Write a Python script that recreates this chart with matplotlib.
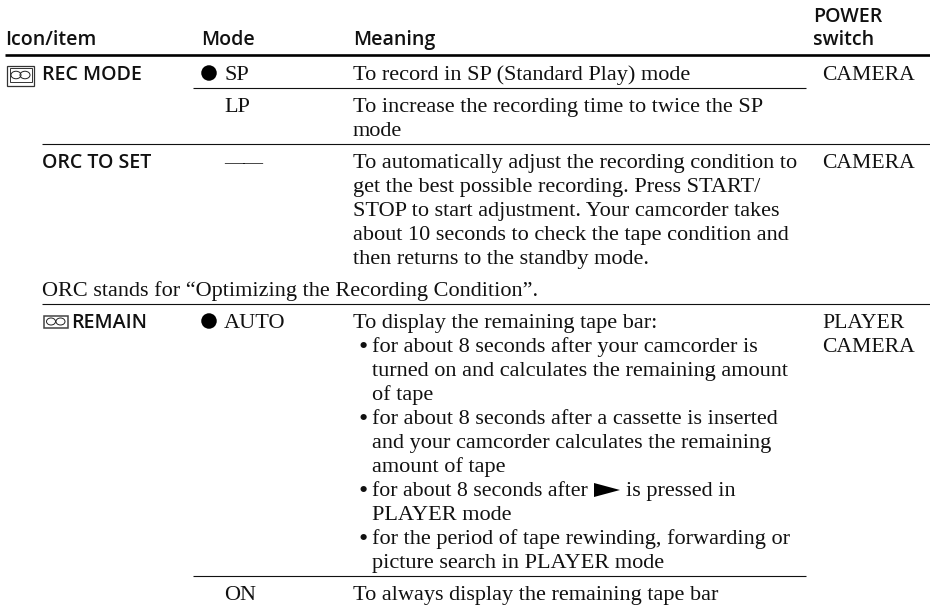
# recreate the REC MODE / ORC TO SET / REMAIN menu table
import matplotlib
matplotlib.use('Agg')
import matplotlib.pyplot as plt
from matplotlib.patches import Rectangle, Ellipse, Polygon

headers = ['Icon/item', 'Mode', 'Meaning']
power_header = ['POWER', 'switch']
items = ['REC MODE', 'ORC TO SET', 'REMAIN']
modes = ['SP', 'LP', '——', 'AUTO', 'ON']
power = ['CAMERA', 'CAMERA', 'PLAYER', 'CAMERA']
footnote = 'ORC stands for “Optimizing the Recording Condition”.'
meaning = [
    'To record in SP (Standard Play) mode',
    'To increase the recording time to twice the SP',
    'mode',
    'To automatically adjust the recording condition to',
    'get the best possible recording. Press START/',
    'STOP to start adjustment. Your camcorder takes',
    'about 10 seconds to check the tape condition and',
    'then returns to the standby mode.',
    'To display the remaining tape bar:',
    '• for about 8 seconds after your camcorder is',
    '  turned on and calculates the remaining amount',
    '  of tape',
    '• for about 8 seconds after a cassette is inserted',
    '  and your camcorder calculates the remaining',
    '  amount of tape',
    '• for about 8 seconds after',
    '  PLAYER mode',
    '• for the period of tape rewinding, forwarding or',
    '  picture search in PLAYER mode',
    'To always display the remaining tape bar',
]

# baselines in pixels
meaning_y = [80, 112, 136, 168, 192, 216, 240, 264, 328, 352, 376, 400, 424, 448, 472, 496, 520, 544, 568, 600]
item_y = [80, 168, 328]
mode_y = [80, 112, 168, 328, 600]
power_y = [80, 168, 328, 352]

SERIF = 'Liberation Serif'
SANS = 'Open Sans'
INK = '#111111'
fs = 16.0
fs_h = 14.1

fig = plt.figure(figsize=(9.3, 6.06), dpi=100)
ax = fig.add_axes([0, 0, 1, 1])
ax.set_xlim(0, 930)
ax.set_ylim(606, 0)
ax.axis('off')

def serif(x, y, s, size=fs):
    ax.text(x, y, s, family=SERIF, fontsize=size, va='baseline', color=INK)

def sans(x, y, s):
    ax.text(x, y, s, family=SANS, weight='semibold', fontsize=fs_h, va='baseline', color=INK)

for x, h in zip([5, 201, 353], headers):
    sans(x, 45, h)
for y, h in zip([22, 45], power_header):
    sans(813, y, h)

# rules
ax.plot([5, 930], [55, 55], color='black', lw=1.9, solid_capstyle='butt')
for x0, x1, y in [(193, 806, 88), (42, 930, 144), (42, 930, 304), (193, 806, 576)]:
    ax.plot([x0, x1], [y, y], color=INK, lw=0.8, solid_capstyle='butt')

for it, y, x in zip(items, item_y, [42, 42, 71]):
    sans(x, y, it)

for m, y in zip(modes, mode_y):
    serif(224, y, m, 14.0 if m == '——' else fs)
# default-setting dots
for y in [73, 321]:
    ax.add_patch(Ellipse((209, y), 15.5, 15.5, color='black', lw=0))

for line, y in zip(meaning, meaning_y):
    if line.startswith('• '):
        serif(358, y + 1.5, '•', 19)
        # this line stops short of the play triangle
        serif(372, y, line[2:], 15.7 if line.endswith('after') else fs)
    elif line.startswith('  '):
        serif(372, y, line[2:])
    else:
        serif(353, y, line)
ax.add_patch(Polygon([[594, 483], [620, 490], [594, 497]], closed=True, color='black', lw=0))
serif(626, 496, 'is pressed in')

serif(42, 296, footnote)

for p, y in zip(power, power_y):
    serif(822, y, p, 15.6)

# tape icons
ax.add_patch(Rectangle((7, 65.5), 27, 20.5, fill=False, ec='#333333', lw=0.9))
ax.add_patch(Rectangle((9.5, 68), 22, 14, fill=False, ec='#333333', lw=0.7))
for cx in [16, 25]:
    ax.add_patch(Ellipse((cx, 75), 10, 7.5, fill=False, ec='#222222', lw=0.7))
ax.add_patch(Rectangle((43.5, 315.5), 24.5, 12, fill=False, ec='#444444', lw=1.1))
for cx in [51, 60.5]:
    ax.add_patch(Ellipse((cx, 321.5), 9, 7, fill=False, ec='#222222', lw=0.7))

fig.savefig('out.png', dpi=100)
